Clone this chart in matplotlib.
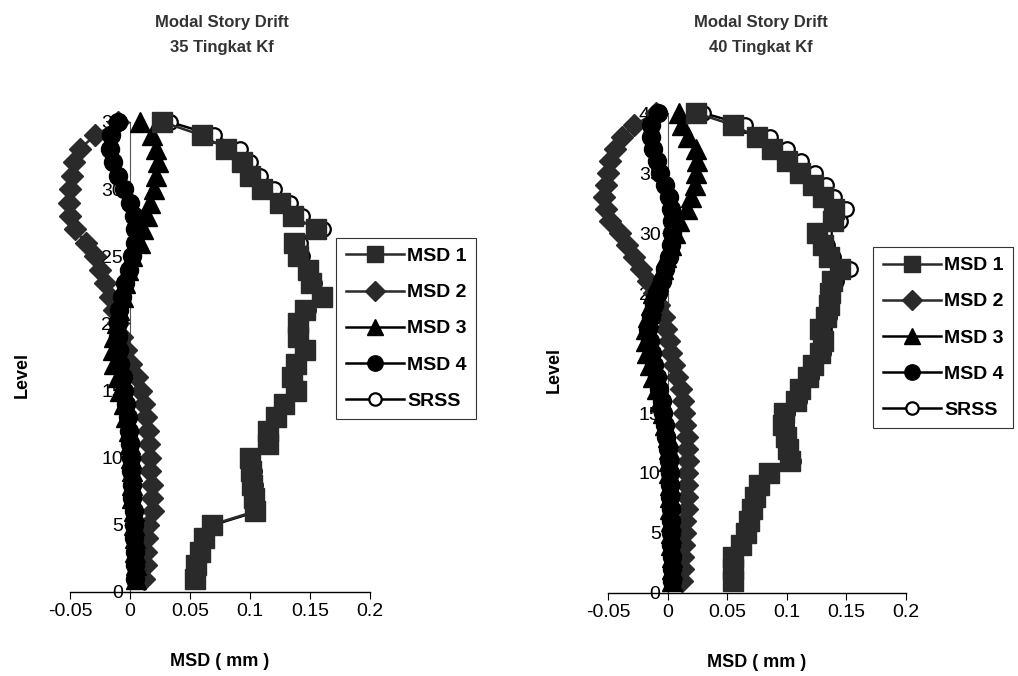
import numpy as np
import matplotlib
matplotlib.use('Agg')
import matplotlib.pyplot as plt

plt.rcParams['font.family'] = ['Liberation Sans', 'DejaVu Sans']

## data (level 1 .. top)
levels_35 = list(range(1, 36))
msd1_35 = [0.054, 0.055, 0.058, 0.062, 0.068, 0.104, 0.103, 0.102, 0.101, 0.100,
           0.115, 0.115, 0.122, 0.128, 0.138, 0.135, 0.138, 0.146, 0.140, 0.140,
           0.146, 0.160, 0.151, 0.148, 0.140, 0.137, 0.155, 0.136, 0.125, 0.110,
           0.100, 0.093, 0.080, 0.060, 0.027]
msd2_35 = [0.012, 0.013, 0.013, 0.014, 0.015, 0.019, 0.018, 0.018, 0.017, 0.017,
           0.016, 0.015, 0.013, 0.012, 0.009, 0.006, 0.001, -0.003, -0.007, -0.010,
           -0.013, -0.017, -0.021, -0.025, -0.029, -0.037, -0.046, -0.050, -0.051, -0.050,
           -0.048, -0.047, -0.042, -0.029, -0.010]
msd3_35 = [0.005, 0.005, 0.004, 0.004, 0.003, 0.003, 0.002, 0.002, 0.002, 0.001,
           0.000, -0.001, -0.003, -0.005, -0.008, -0.010, -0.013, -0.014, -0.013, -0.011,
           -0.009, -0.006, -0.004, -0.002, 0.002, 0.008, 0.011, 0.014, 0.017, 0.020,
           0.022, 0.023, 0.022, 0.018, 0.008]
msd4_35 = [0.004, 0.004, 0.004, 0.003, 0.003, 0.003, 0.002, 0.002, 0.001, 0.001,
           0.000, -0.001, -0.002, -0.003, -0.005, -0.006, -0.008, -0.009, -0.010, -0.010,
           -0.009, -0.007, -0.004, -0.001, 0.002, 0.004, 0.004, 0.003, 0.000, -0.005,
           -0.010, -0.014, -0.017, -0.016, -0.010]
srss_35 = [0.055, 0.056, 0.059, 0.063, 0.070, 0.106, 0.105, 0.104, 0.103, 0.102,
           0.116, 0.116, 0.123, 0.129, 0.139, 0.136, 0.139, 0.147, 0.141, 0.141,
           0.148, 0.162, 0.153, 0.150, 0.143, 0.142, 0.161, 0.143, 0.133, 0.120,
           0.108, 0.100, 0.092, 0.070, 0.033]

levels_40 = list(range(1, 41))
msd1_40 = [0.055, 0.055, 0.055, 0.062, 0.066, 0.068, 0.071, 0.073, 0.077, 0.085,
           0.103, 0.101, 0.099, 0.097, 0.098, 0.108, 0.111, 0.118, 0.122, 0.128,
           0.130, 0.128, 0.133, 0.135, 0.136, 0.138, 0.145, 0.135, 0.130, 0.125,
           0.139, 0.140, 0.130, 0.122, 0.111, 0.100, 0.088, 0.075, 0.055, 0.024]
msd2_40 = [0.012, 0.013, 0.013, 0.014, 0.015, 0.015, 0.016, 0.016, 0.016, 0.016,
           0.017, 0.016, 0.016, 0.015, 0.014, 0.013, 0.011, 0.008, 0.005, 0.003,
           0.001, -0.001, -0.003, -0.007, -0.011, -0.016, -0.022, -0.028, -0.034, -0.040,
           -0.048, -0.052, -0.053, -0.052, -0.050, -0.048, -0.044, -0.038, -0.028, -0.010]
msd3_40 = [0.004, 0.004, 0.004, 0.003, 0.003, 0.003, 0.002, 0.002, 0.002, 0.001,
           0.001, 0.001, 0.000, -0.002, -0.004, -0.006, -0.009, -0.012, -0.015, -0.017,
           -0.018, -0.018, -0.016, -0.014, -0.012, -0.008, -0.004, -0.001, 0.003, 0.006,
           0.010, 0.016, 0.020, 0.023, 0.024, 0.025, 0.024, 0.017, 0.012, 0.010]
msd4_40 = [0.004, 0.004, 0.004, 0.003, 0.003, 0.003, 0.003, 0.002, 0.002, 0.002,
           0.001, 0.000, -0.001, -0.002, -0.004, -0.005, -0.007, -0.009, -0.011, -0.013,
           -0.015, -0.016, -0.014, -0.011, -0.008, -0.005, -0.002, 0.001, 0.003, 0.004,
           0.004, 0.003, 0.001, -0.002, -0.006, -0.009, -0.012, -0.014, -0.014, -0.008]
srss_40 = [0.056, 0.056, 0.056, 0.063, 0.067, 0.069, 0.072, 0.074, 0.078, 0.086,
           0.105, 0.103, 0.101, 0.099, 0.100, 0.110, 0.113, 0.120, 0.124, 0.130,
           0.132, 0.131, 0.135, 0.137, 0.138, 0.141, 0.153, 0.139, 0.134, 0.131,
           0.145, 0.150, 0.140, 0.133, 0.124, 0.112, 0.100, 0.086, 0.065, 0.030]

titles = ['Modal Story Drift\n35 Tingkat Kf', 'Modal Story Drift\n40 Tingkat Kf']
x_ticks = [-0.05, 0, 0.05, 0.1, 0.15, 0.2]
x_tick_labels = ['-0.05', '0', '0.05', '0.1', '0.15', '0.2']
series_names = ['MSD 1', 'MSD 2', 'MSD 3', 'MSD 4', 'SRSS']

fig = plt.figure(figsize=(10.18, 6.76), dpi=100)
ax1 = fig.add_axes([0.0688, 0.1243, 0.2947, 0.6953])
ax2 = fig.add_axes([0.5972, 0.1228, 0.2928, 0.7100])

# marker styles per series
styles = [
    dict(marker='s', ms=14, color='#2a2a2a', mfc='#2a2a2a', mec='#2a2a2a', zorder=5),
    dict(marker='D', ms=11.5, color='#2a2a2a', mfc='#2a2a2a', mec='#2a2a2a', zorder=4),
    dict(marker='^', ms=14, color='black', mfc='black', mec='black', zorder=4),
    dict(marker='o', ms=13, color='black', mfc='black', mec='black', zorder=4),
    dict(marker='o', ms=10.5, color='black', mfc='white', mec='black', mew=1.6, zorder=3),
]

datasets = [
    (ax1, levels_35, [msd1_35, msd2_35, msd3_35, msd4_35, srss_35], 35, (0.330, 0.648), 0.218),
    (ax2, levels_40, [msd1_40, msd2_40, msd3_40, msd4_40, srss_40], 40, (0.8576, 0.6346), 0.747),
]

for (ax, lv, series, top, leg_pos, tx), title in zip(datasets, titles):
    handles = []
    for vals, st, name in zip(series, styles, series_names):
        h, = ax.plot(vals, lv, lw=1.8, clip_on=False, label=name, **st)
        handles.append(h)
    ax.set_xlim(-0.05, 0.2)
    ax.set_ylim(0, top)
    ax.set_xticks(x_ticks)
    ax.set_xticklabels(x_tick_labels)
    ax.set_yticks(list(range(0, top + 1, 5)))
    ax.spines['left'].set_position(('data', 0))
    ax.spines['left'].set_color('#555555')
    ax.spines['left'].set_linewidth(0.8)
    ax.spines['left'].set_zorder(1)
    ax.spines['right'].set_visible(False)
    ax.spines['top'].set_visible(False)
    ax.spines['bottom'].set_linewidth(1.0)
    ax.tick_params(axis='x', direction='out', length=5, labelsize=14, pad=3)
    ax.tick_params(axis='y', direction='out', length=4, labelsize=14, pad=1)
    ax.set_xlabel('MSD ( mm )', fontsize=13, fontweight='bold', labelpad=24)
    fig.text(tx, 0.978, title, fontsize=12, fontweight='bold', color='#333333',
             ha='center', va='top', linespacing=1.85)
    ax.patch.set_alpha(0)
    leg = fig.legend(handles=handles, loc='upper left', bbox_to_anchor=leg_pos,
                     frameon=True, fancybox=False, edgecolor='black',
                     prop={'weight': 'bold', 'size': 14}, handlelength=3.0,
                     handletextpad=0.15, labelspacing=0.95, borderpad=0.5,
                     borderaxespad=0, markerscale=0.85)
    leg.get_frame().set_linewidth(0.8)

fig.text(0.022, 0.445, 'Level', rotation=90, fontsize=13, fontweight='bold', va='center', ha='center')
fig.text(0.544, 0.452, 'Level', rotation=90, fontsize=13, fontweight='bold', va='center', ha='center')

fig.savefig('out.png', dpi=100)
